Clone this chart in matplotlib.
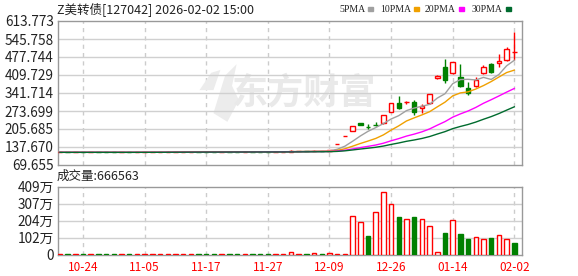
import numpy as np
import pandas as pd
import matplotlib
matplotlib.use("Agg")
import matplotlib.pyplot as plt
from matplotlib.patches import Polygon

# daily bars for Z美转债 (60 sessions)
opens = [117.5, 117.6, 117.4, 117.6, 117.5, 117.7, 117.6, 117.4, 117.3, 117.6,
         117.5, 117.8, 118.0, 118.3, 118.6, 119.5, 119.8, 120.0, 120.2, 120.0,
         119.8, 119.7, 120.0, 119.8, 119.6, 120.0, 119.8, 119.7, 119.5, 119.8,
         120.2, 122.0, 122.3, 122.0, 123.5, 123.0, 150.6, 180.7, 200.0, 228.0,
         215.0, 222.0, 227.0, 270.0, 303.0, 307.0, 306.6, 284.0, 303.0, 398.0,
         440.0, 416.0, 401.0, 360.6, 367.0, 416.0, 451.0, 454.0, 466.0, 495.0]
closes = [117.6, 117.4, 117.6, 117.5, 117.7, 117.6, 117.4, 117.3, 117.6, 117.5,
          117.8, 118.0, 118.3, 118.6, 119.5, 119.8, 120.0, 120.2, 120.0, 119.8,
          119.7, 120.0, 119.8, 119.6, 120.0, 119.8, 119.7, 119.5, 119.8, 120.2,
          122.0, 122.3, 122.0, 123.5, 123.0, 125.5, 150.6, 180.7, 216.8, 222.0,
          214.0, 221.0, 257.0, 303.0, 286.0, 309.0, 268.8, 291.7, 338.0, 405.0,
          391.0, 459.0, 369.5, 343.0, 392.0, 440.0, 420.0, 463.0, 507.0, 497.0]
highs = [117.8, 117.7, 117.8, 117.7, 117.9, 117.8, 117.7, 117.5, 117.8, 117.7,
         118.0, 118.2, 118.5, 118.8, 122.0, 120.0, 120.2, 120.4, 120.3, 120.1,
         119.9, 120.2, 120.0, 119.9, 120.2, 120.0, 119.9, 119.8, 120.0, 120.4,
         125.0, 122.6, 122.4, 125.0, 123.6, 126.5, 150.6, 180.7, 216.8, 230.0,
         223.0, 231.0, 258.0, 304.0, 330.0, 313.0, 315.0, 299.0, 339.0, 408.0,
         470.0, 460.0, 451.0, 383.0, 403.0, 448.0, 456.0, 488.0, 515.0, 573.0]
lows = [117.3, 117.2, 117.3, 117.3, 117.4, 117.4, 117.2, 117.1, 117.2, 117.3,
        117.4, 117.7, 117.9, 118.1, 118.5, 119.4, 119.7, 119.9, 119.8, 119.6,
        119.5, 119.6, 119.6, 119.4, 119.5, 119.6, 119.5, 119.3, 119.4, 119.7,
        120.0, 121.8, 121.7, 121.9, 122.7, 122.5, 150.6, 180.7, 199.0, 219.0,
        207.0, 217.0, 226.0, 269.0, 282.0, 300.0, 257.0, 265.0, 302.0, 396.0,
        378.0, 415.0, 365.0, 334.0, 366.0, 412.0, 416.0, 441.0, 464.0, 467.0]
# volume in 万
volumes = [3, 2, 3, 2, 3, 2, 2, 2, 3, 2,
           3, 3, 3, 3, 4, 3, 3, 3, 2, 2,
           2, 3, 2, 2, 3, 2, 2, 2, 3, 3,
           16, 3, 2, 10, 3, 10, 2, 3, 229, 194,
           113, 253, 377, 306, 225, 211, 225, 211, 170, 16,
           130, 205, 124, 95, 105, 93, 101, 117, 93, 66.6563]

date_pos = [3, 11, 19, 27, 35, 43, 51, 59]
date_labels = ["10-24", "11-05", "11-17", "11-27", "12-09", "12-26", "01-14", "02-02"]
price_ticks = [69.655, 137.670, 205.685, 273.699, 341.714, 409.729, 477.744, 545.758, 613.773]
vol_ticks = [0, 102.25, 204.5, 306.75, 409]
vol_labels = ["0", "102万", "204万", "307万", "409万"]

RED = "#ff0000"
GREEN = "#008000"
ma_colors = {5: "#a0a0a0", 10: "#f0a000", 20: "#ff00ff", 30: "#006b2e"}
CJK = ["Noto Sans CJK SC", "DejaVu Sans"]

o = np.array(opens)
c = np.array(closes)
h = np.array(highs)
l = np.array(lows)
v = np.array(volumes)
x = np.arange(len(c))
prev = np.concatenate([[c[0]], c[:-1]])
candle_up = c >= o
vol_up = c >= prev

W, H = 578, 276
fig = plt.figure(figsize=(W / 100, H / 100), dpi=100)
ax = fig.add_axes([58 / W, 1 - 165 / H, 464 / W, 144 / H])
axv = fig.add_axes([58 / W, 1 - 254.5 / H, 464 / W, 68 / H])

for a in (ax, axv):
    a.set_xlim(-0.25, 60.0)
    for s in a.spines.values():
        s.set_color("#999999")
        s.set_linewidth(1)
    for p in date_pos:
        a.axvline(p, color="#cccccc", lw=1, ls=(0, (3, 3)), zorder=0)
    a.tick_params(length=0, colors="#222222")

# watermark: leaf logo + text
ax.add_patch(Polygon([(0.335, 0.36), (0.36, 0.62), (0.385, 0.70), (0.375, 0.55),
                      (0.39, 0.45), (0.365, 0.30)], closed=True,
                     transform=ax.transAxes, color="#ececec", zorder=0, lw=0))
ax.add_patch(Polygon([(0.305, 0.52), (0.33, 0.64), (0.35, 0.66), (0.335, 0.52)],
                     closed=True, transform=ax.transAxes, color="#ececec", zorder=0, lw=0))
ax.text(0.53, 0.5, "东方财富", transform=ax.transAxes, ha="center", va="center",
        fontsize=26, fontweight="bold", color="#e9e9e9", family=CJK, zorder=0)

# price panel
ax.set_ylim(price_ticks[0], price_ticks[-1])
for t in price_ticks[1:-1]:
    ax.axhline(t, color="#d0d0d0", lw=1, zorder=0)
ax.set_yticks(price_ticks)
ax.set_yticklabels(["%.3f" % t for t in price_ticks], family=CJK, fontsize=9.8)
ax.tick_params(axis="y", pad=3)
ax.set_xticks([])

col = np.where(candle_up, RED, GREEN)
ax.vlines(x, l, h, colors=col, lw=1, zorder=2)
body_lo = np.minimum(o, c)
body_h = np.abs(c - o)
ax.bar(x, body_h, bottom=body_lo, width=0.58,
       facecolor=np.where(candle_up, "white", GREEN), edgecolor=col, lw=1, zorder=3)

cs = pd.Series(c)
for n, mc in ma_colors.items():
    ax.plot(x, cs.rolling(n, min_periods=1).mean(), color=mc, lw=1, zorder=4)

# volume panel
axv.set_ylim(0, vol_ticks[-1])
for t in vol_ticks[1:-1]:
    axv.axhline(t, color="#d0d0d0", lw=1, zorder=0)
axv.set_yticks(vol_ticks)
axv.set_yticklabels(vol_labels, family=CJK, fontsize=9.8)
axv.tick_params(axis="y", pad=3)
vcol = np.where(vol_up, RED, GREEN)
axv.bar(x, v, width=0.58, facecolor=np.where(vol_up, "white", GREEN),
        edgecolor=vcol, lw=1, zorder=3)
axv.set_xticks(date_pos)
axv.set_xticklabels(date_labels, color=RED, family=CJK, fontsize=8.5)
axv.tick_params(axis="x", pad=5)

# title and legend
fig.text(57 / W, 1 - 9 / H, "Z美转债[127042] 2026-02-02 15:00", family=CJK,
         fontsize=9, va="center", ha="left", color="#222222")
fig.text(57 / W, 1 - 176 / H, "成交量:666563", family=CJK,
         fontsize=9, va="center", ha="left", color="#222222")

fig.canvas.draw()
r = fig.canvas.get_renderer()
for (n, mc), lx in zip(ma_colors.items(), [339, 380, 425, 472]):
    t = fig.text(lx / W, 1 - 9 / H, "%dPMA" % n, family="Liberation Serif",
                 fontsize=7, va="center", ha="left", color="#222222")
    sx = t.get_window_extent(r).x1 + 3
    fig.patches.append(plt.Rectangle((sx / W, 1 - 11 / H), 5 / W, 4 / H,
                                     transform=fig.transFigure, color=mc))

fig.savefig("out.png", dpi=100)
